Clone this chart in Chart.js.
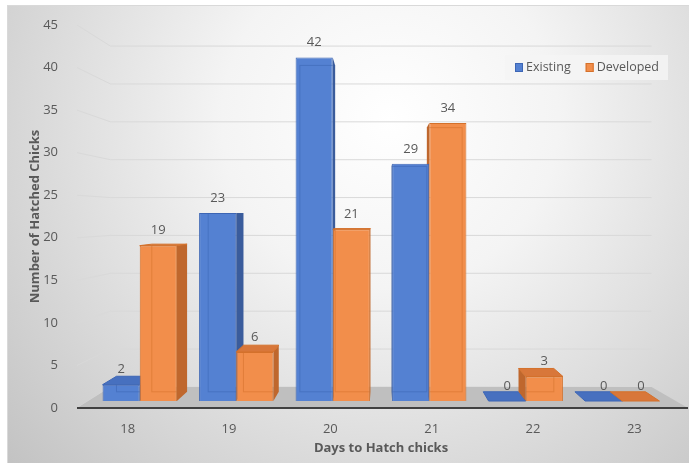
<!DOCTYPE html>
<html>
<head>
<meta charset="utf-8">
<script src="https://cdn.jsdelivr.net/npm/chart.js@4.4.1/dist/chart.umd.min.js"></script>
<style>
body { margin: 0; background: #fff; }
#wrap { width: 689px; height: 463px; }
</style>
</head>
<body>
<div id="wrap"><canvas id="chart"></canvas></div>
<script>
const days = [18, 19, 20, 21, 22, 23]
const existing = [2, 23, 42, 29, 0, 0]
const developed = [19, 6, 21, 34, 3, 0]
const yMin = 0
const yMax = 45
const yStep = 5

// bars sit a bit behind the front of the axis box (3D look)
const barLift = 0.82
const barShrink = 0.961
const barDepth = 0.05
const wallDepth = 0.11

const textColor = '#595959'
const font = 'Open Sans'

const looks = [
    { front: '#5481D2', border: '#3D66B5', side: '#3A5C9C', top: '#4770BF' },
    { front: '#F28E4B', border: '#D4712B', side: '#BF672D', top: '#D8773A' }
]

function vanish(chart) {
    let a = chart.chartArea
    return { x: (a.left + a.right) / 2, y: chart.scales.yl.getPixelForValue((yMin + yMax) / 2) }
}

function proj(px, py, f, v) {
    return [px + f * (v.x - px), py + f * (v.y - py)]
}

function poly(ctx, pts, fill) {
    ctx.beginPath()
    ctx.moveTo(pts[0][0], pts[0][1])
    for (let i = 1; i < pts.length; i++) ctx.lineTo(pts[i][0], pts[i][1])
    ctx.closePath()
    ctx.fillStyle = fill
    ctx.fill()
}

function eachBar(chart, cb) {
    chart.data.datasets.forEach((ds, d) => {
        let meta = chart.getDatasetMeta(d)
        meta.data.forEach((el, i) => {
            let p = el.getProps(['x', 'y', 'base', 'width'], true)
            cb(p, looks[d], ds.data[i].y)
        })
    })
}

const scene = {
    id: 'scene',
    beforeDraw(chart) {
        let ctx = chart.ctx
        let w = chart.width, h = chart.height
        ctx.save()
        ctx.fillStyle = '#ffffff'
        ctx.fillRect(0, 0, w, h)
        let g = ctx.createRadialGradient(390, 120, 0, 390, 120, 560)
        g.addColorStop(0, '#ffffff')
        g.addColorStop(0.3, '#f4f4f4')
        g.addColorStop(1, '#bcbcbc')
        ctx.fillStyle = g
        ctx.fillRect(7, 5, w - 7, h - 5)
        ctx.strokeStyle = '#d9d9d9'
        ctx.lineWidth = 1
        ctx.beginPath()
        ctx.moveTo(7, 5.5)
        ctx.lineTo(w, 5.5)
        ctx.moveTo(7.5, 5)
        ctx.lineTo(7.5, h)
        ctx.stroke()
        ctx.restore()
    },
    beforeDatasetsDraw(chart) {
        let ctx = chart.ctx
        let a = chart.chartArea
        let yl = chart.scales.yl
        let v = vanish(chart)
        ctx.save()

        // back wall grid
        ctx.strokeStyle = '#d9d9d9'
        ctx.lineWidth = 1
        for (let t = yMin; t <= yMax; t += yStep) {
            let fy = yl.getPixelForValue(t)
            let bl = proj(a.left, fy, wallDepth, v)
            let br = proj(a.right, fy, wallDepth, v)
            ctx.beginPath()
            ctx.moveTo(a.left, fy)
            ctx.lineTo(bl[0], bl[1])
            ctx.lineTo(br[0], br[1])
            ctx.stroke()
        }

        // floor
        let fy0 = yl.getPixelForValue(yMin)
        poly(ctx, [
            [a.left, fy0],
            proj(a.left, fy0, wallDepth, v),
            proj(a.right, fy0, wallDepth, v),
            [a.right + 3, fy0]
        ], '#bfbfbf')
        ctx.strokeStyle = '#404040'
        ctx.lineWidth = 2
        ctx.beginPath()
        ctx.moveTo(a.left, fy0)
        ctx.lineTo(a.right + 3, fy0)
        ctx.stroke()

        // side and top faces, fronts are drawn by Chart.js afterwards
        eachBar(chart, (p, look) => {
            let x0 = p.x - p.width / 2, x1 = p.x + p.width / 2
            let top = p.y, bot = p.base
            let bt0 = proj(x0, top, barDepth, v), bt1 = proj(x1, top, barDepth, v)
            let bb0 = proj(x0, bot, barDepth, v), bb1 = proj(x1, bot, barDepth, v)
            if (x1 < v.x && bot - top > 0.5) {
                poly(ctx, [[x1, top], bt1, bb1, [x1, bot]], look.side)
            } else if (x0 > v.x && bot - top > 0.5) {
                poly(ctx, [[x0, top], bt0, bb0, [x0, bot]], look.side)
            }
            if (top > v.y) {
                poly(ctx, [[x0, top], [x1, top], bt1, bt0], look.top)
                ctx.strokeStyle = look.border
                ctx.lineWidth = 1
                ctx.stroke()
            }
        })
        ctx.restore()
    },
    afterDatasetsDraw(chart) {
        let ctx = chart.ctx
        let v = vanish(chart)
        ctx.save()
        // back edges seen through the front face
        eachBar(chart, (p, look) => {
            let x0 = p.x - p.width / 2, x1 = p.x + p.width / 2
            if (p.base - p.y < 2) return
            let b0 = proj(x0, p.y, barDepth, v), b1 = proj(x1, p.base, barDepth, v)
            ctx.save()
            ctx.beginPath()
            ctx.rect(x0, p.y, x1 - x0, p.base - p.y)
            ctx.clip()
            ctx.strokeStyle = look.border
            ctx.globalAlpha = 0.55
            ctx.lineWidth = 1
            ctx.strokeRect(b0[0], b0[1], b1[0] - b0[0], b1[1] - b0[1])
            ctx.restore()
        })
        // value labels
        ctx.fillStyle = textColor
        ctx.font = '13px "' + font + '"'
        ctx.textAlign = 'center'
        ctx.textBaseline = 'middle'
        eachBar(chart, (p, look, val) => {
            ctx.fillText(String(val), p.x, p.y - 15)
        })
        ctx.restore()
    },
    afterDraw(chart) {
        let ctx = chart.ctx
        let a = chart.chartArea
        let names = chart.data.datasets.map(ds => ds.label)
        ctx.save()
        ctx.font = '12.5px "' + font + '"'
        let bx = a.right - 180, by = 55
        ctx.fillStyle = 'rgba(245,245,245,0.85)'
        ctx.fillRect(bx, by, 163, 25)
        let x = bx + 10
        ctx.textBaseline = 'middle'
        names.forEach((n, i) => {
            ctx.fillStyle = looks[i].front
            ctx.fillRect(x, by + 8, 8, 9)
            ctx.strokeStyle = looks[i].border
            ctx.lineWidth = 1
            ctx.strokeRect(x + 0.5, by + 8.5, 7, 8)
            ctx.fillStyle = textColor
            ctx.fillText(n, x + 11, by + 12.5)
            x += 11 + ctx.measureText(n).width + 15
        })
        ctx.restore()
    }
}

const toPoints = vals => vals.map((val, i) => ({ x: days[i], y: val }))

let canvas = document.querySelector('#chart')

let config = {
    type: 'bar',
    data: {
        labels: days.map(String),
        datasets: [
            {
                label: 'Existing',
                data: toPoints(existing),
                backgroundColor: looks[0].front,
                borderColor: looks[0].border,
                borderWidth: 1,
                xAxisID: 'xb',
                yAxisID: 'y'
            },
            {
                label: 'Developed',
                data: toPoints(developed),
                backgroundColor: looks[1].front,
                borderColor: looks[1].border,
                borderWidth: 1,
                xAxisID: 'xb',
                yAxisID: 'y'
            }
        ]
    },
    options: {
        responsive: true,
        maintainAspectRatio: false,
        animation: false,
        devicePixelRatio: 1,
        layout: { padding: { left: 7, top: 25, right: 4, bottom: 0 } },
        categoryPercentage: 0.77,
        barPercentage: 1,
        plugins: {
            legend: { display: false },
            tooltip: { enabled: false }
        },
        scales: {
            x: {
                type: 'category',
                position: 'bottom',
                offset: true,
                grid: { display: false },
                border: { display: false },
                ticks: { color: textColor, font: { family: font, size: 13 }, padding: 5 },
                title: {
                    display: true,
                    text: 'Days to Hatch chicks',
                    color: textColor,
                    font: { family: font, size: 13, weight: 'bold' },
                    padding: { top: 0, bottom: 7 }
                },
                afterFit: s => { s.height = 55 }
            },
            xb: {
                type: 'linear',
                display: false,
                offset: false,
                grid: { offset: false },
                min: days[0] - 0.65,
                max: days[days.length - 1] + 0.65,
                afterBuildTicks: s => { s.ticks = days.map(d => ({ value: d })) }
            },
            y: {
                type: 'linear',
                display: false,
                min: -barLift / barShrink,
                max: (yMax - barLift) / barShrink
            },
            yl: {
                type: 'linear',
                position: 'left',
                min: yMin,
                max: yMax,
                grid: { display: false },
                border: { display: false },
                ticks: { stepSize: yStep, color: textColor, font: { family: font, size: 13 }, padding: 11 },
                title: {
                    display: true,
                    text: 'Number of Hatched Chicks',
                    color: textColor,
                    font: { family: font, size: 13, weight: 'bold' },
                    padding: { top: 20, bottom: 0 }
                },
                afterFit: s => { s.width = 70 }
            }
        }
    },
    plugins: [scene]
}

const myChart = new Chart(canvas, config)
</script>
</body>
</html>
